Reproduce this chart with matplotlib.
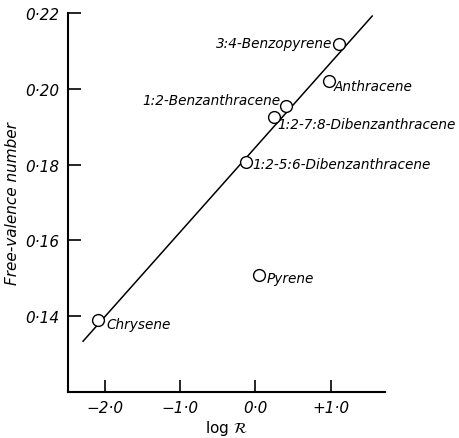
import matplotlib
matplotlib.use('Agg')
import matplotlib.pyplot as plt

# data
names = ['3:4-Benzopyrene', 'Anthracene', '1:2-Benzanthracene',
         '1:2-7:8-Dibenzanthracene', '1:2-5:6-Dibenzanthracene',
         'Pyrene', 'Chrysene']
log_r = [1.11, 0.97, 0.41, 0.24, -0.12, 0.04, -2.09]
free_valence = [0.2118, 0.2021, 0.1955, 0.1926, 0.1808, 0.1508, 0.139]
# label offsets in points (dx, dy) and horizontal alignment
offsets = [(-5, 1), (4, -4), (-4, 4), (3, -5), (4, -2), (6, -2), (6, -3)]
aligns = ['right', 'left', 'right', 'left', 'left', 'left', 'left']

fit_x = [-2.29, 1.55]
fit_y = [0.1334, 0.2192]

xticks = [-2.0, -1.0, 0.0, 1.0]
xticklabels = ['\u22122\u00b70', '\u22121\u00b70', '0\u00b70', '+1\u00b70']
yticks = [0.14, 0.16, 0.18, 0.20, 0.22]
yticklabels = ['0\u00b714', '0\u00b716', '0\u00b718', '0\u00b720', '0\u00b722']

plt.rcParams['font.family'] = 'DejaVu Sans'
fig = plt.figure(figsize=(4.6, 4.39), dpi=100)
ax = fig.add_axes([68 / 460, 1 - 393 / 439, (385 - 68) / 460, (393 - 14) / 439])

ax.plot(fit_x, fit_y, color='black', lw=1.1)
ax.plot(log_r, free_valence, 'o', ms=8.5, mfc='white', mec='black', mew=1.0)
for n, x, y, off, ha in zip(names, log_r, free_valence, offsets, aligns):
    ax.annotate(n, (x, y), xytext=off, textcoords='offset points',
                ha=ha, va='center', fontsize=9.8, style='italic')

ax.set_xlim(-2.49, 1.72)
ax.set_ylim(0.12, 0.22)
ax.set_xticks(xticks)
ax.set_xticklabels(xticklabels, fontsize=11, style='italic')
ax.set_yticks(yticks)
ax.set_yticklabels(yticklabels, fontsize=11, style='italic')
ax.tick_params(direction='in', length=9, width=1.2, pad=6)
ax.spines['top'].set_visible(False)
ax.spines['right'].set_visible(False)
ax.spines['left'].set_linewidth(1.5)
ax.spines['bottom'].set_linewidth(1.5)
ax.set_xlabel('log $\\mathcal{R}$', fontsize=11, labelpad=2)
ax.set_ylabel('Free-valence number', fontsize=11, style='italic', labelpad=4)

fig.savefig('out.png', dpi=100)
